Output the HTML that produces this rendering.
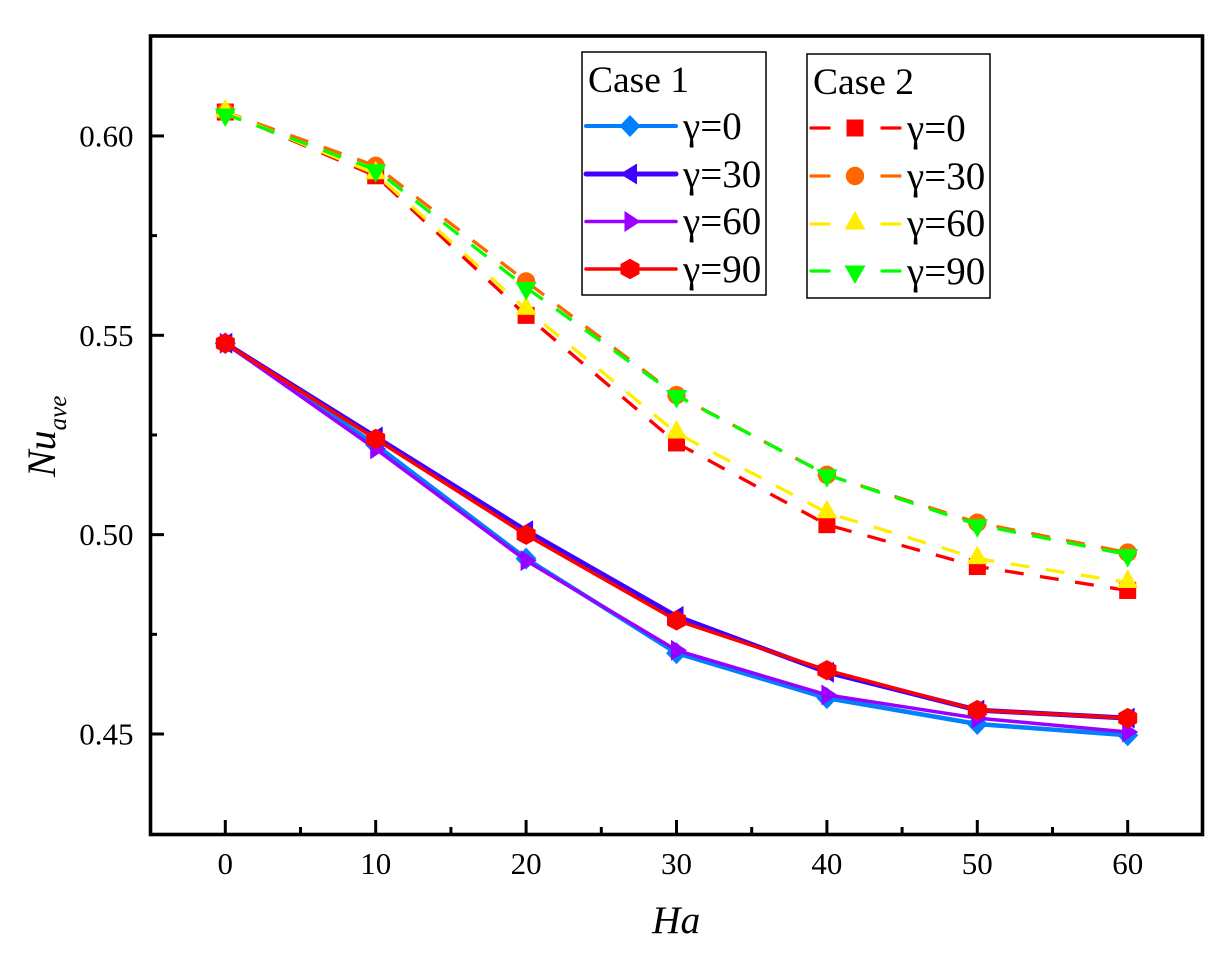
<!DOCTYPE html>
<html lang="en">
<head>
<meta charset="utf-8">
<title>Nu ave vs Ha</title>
<style>
html,body{margin:0;padding:0;background:#fff;}
svg{display:block;}
text{font-family:"Liberation Serif",serif;fill:#000;}
</style>
</head>
<body>
<svg id="chart" width="1230" height="953" viewBox="0 0 1230 953" xmlns="http://www.w3.org/2000/svg">
<rect x="0" y="0" width="1230" height="953" fill="#fff"/>
<g id="series-layer"></g>
<g id="axes-layer"></g>
<g id="legends"></g>
<text x="652" y="933" font-size="39.5" font-style="italic">Ha</text>
<text transform="translate(55,477) rotate(-90)" font-size="40" font-style="italic">Nu<tspan font-size="25" dy="11">ave</tspan></text>
</svg>
<script>
var categories = [0, 10, 20, 30, 40, 50, 60];
var xTicks = [0, 10, 20, 30, 40, 50, 60];
var xMinorTicks = [5, 15, 25, 35, 45, 55];
var yTicks = [0.45, 0.50, 0.55, 0.60];
var yTickLabels = ['0.45', '0.50', '0.55', '0.60'];
var yMinorTicks = [0.475, 0.525, 0.575];

var case1Gamma0 = [0.548, 0.5225, 0.494, 0.4703, 0.459, 0.4525, 0.4497];
var case1Gamma30 = [0.548, 0.5245, 0.501, 0.4795, 0.4655, 0.456, 0.454];
var case1Gamma60 = [0.548, 0.5215, 0.4935, 0.471, 0.4598, 0.454, 0.4505];
var case1Gamma90 = [0.548, 0.524, 0.5, 0.4785, 0.466, 0.456, 0.454];
var case2Gamma0 = [0.606, 0.59, 0.555, 0.523, 0.5025, 0.492, 0.486];
var case2Gamma30 = [0.606, 0.5925, 0.5635, 0.535, 0.515, 0.503, 0.4955];
var case2Gamma60 = [0.606, 0.5905, 0.5565, 0.5255, 0.5055, 0.494, 0.488];
var case2Gamma90 = [0.6055, 0.5915, 0.562, 0.5349, 0.515, 0.5025, 0.495];

var NS = 'http://www.w3.org/2000/svg';
function xScale(v) { return 225.3 + (v - 0) * 15.04; }
function yScale(v) { return 734 - (v - 0.45) * 3987; }

function make(tag, attrs, parent) {
  var el = document.createElementNS(NS, tag);
  for (var k in attrs) el.setAttribute(k, attrs[k]);
  parent.appendChild(el);
  return el;
}
function pointsOf(list) {
  return list.map(function (p) { return p[0].toFixed(1) + ',' + p[1].toFixed(1); }).join(' ');
}
function drawMarker(kind, cx, cy, color, parent) {
  var pts = null;
  if (kind === 'diamond') pts = [[cx, cy - 11], [cx + 10.5, cy], [cx, cy + 11], [cx - 10.5, cy]];
  if (kind === 'left') pts = [[cx - 10, cy], [cx + 7, cy - 10.5], [cx + 7, cy + 10.5]];
  if (kind === 'right') pts = [[cx + 10.5, cy], [cx - 5.5, cy - 10.5], [cx - 5.5, cy + 10.5]];
  if (kind === 'hexagon') pts = [[cx, cy - 10.2], [cx + 9.5, cy - 5], [cx + 9.5, cy + 5], [cx, cy + 10.2], [cx - 9.5, cy + 5], [cx - 9.5, cy - 5]];
  if (kind === 'up') pts = [[cx, cy - 13], [cx + 10.5, cy + 5.5], [cx - 10.5, cy + 5.5]];
  if (kind === 'down') pts = [[cx, cy + 13], [cx + 10.5, cy - 5.5], [cx - 10.5, cy - 5.5]];
  if (pts) return make('polygon', { points: pointsOf(pts), fill: color }, parent);
  if (kind === 'square') return make('rect', { x: cx - 8.5, y: cy - 8.5, width: 17, height: 17, fill: color }, parent);
  return make('circle', { cx: cx, cy: cy, r: 9.2, fill: color }, parent);
}

var seriesLayer = document.getElementById('series-layer');
var axesLayer = document.getElementById('axes-layer');
var legendsLayer = document.getElementById('legends');

function drawSeries(name, values, color, width, dash, marker) {
  var g = make('g', {}, seriesLayer);
  
  
  var attrs = {
    points: pointsOf(values.map(function (v, i) { return [xScale(categories[i]), yScale(v)]; })),
    fill: 'none', stroke: color, 'stroke-width': width, 'stroke-linejoin': 'round'
  };
  if (dash) {
    attrs['stroke-dasharray'] = dash;
    attrs['stroke-dashoffset'] = 2;
  }
  var line = make('polyline', attrs, g);
  
  
  values.forEach(function (v, i) {
    var m = drawMarker(marker, xScale(categories[i]), yScale(v), color, g);
    
    
  });
}

drawSeries('case1-gamma0', case1Gamma0, '#0080ff', 4.5, null, 'diamond');
drawSeries('case1-gamma30', case1Gamma30, '#4000ff', 5, null, 'left');
drawSeries('case1-gamma60', case1Gamma60, '#9900ff', 3.5, null, 'right');
drawSeries('case1-gamma90', case1Gamma90, '#ff0000', 3.5, null, 'hexagon');
drawSeries('case2-gamma0', case2Gamma0, '#ff0000', 3.3, '19 16.5', 'square');
drawSeries('case2-gamma30', case2Gamma30, '#ff6600', 3.3, '19 16.5', 'circle');
drawSeries('case2-gamma60', case2Gamma60, '#ffee00', 3.3, '19 16.5', 'up');
drawSeries('case2-gamma90', case2Gamma90, '#00ff00', 3.3, '19 16.5', 'down');

/* axes */
var frame = make('rect', { x: 150.5, y: 36, width: 1052, height: 798.5, fill: 'none', stroke: '#000', 'stroke-width': 3.6 }, axesLayer);



xTicks.forEach(function (t) {
  var x = xScale(t);
  var tick = make('line', { x1: x, x2: x, y1: 834, y2: 820, stroke: '#000', 'stroke-width': 3 }, axesLayer);
  
  
  var label = make('text', { x: x, y: 874, 'font-size': 31, 'text-anchor': 'middle' }, axesLayer);
  
  
  label.textContent = String(t);
});
xMinorTicks.forEach(function (t) {
  var x = xScale(t);
  var tick = make('line', { x1: x, x2: x, y1: 834, y2: 827, stroke: '#000', 'stroke-width': 3 }, axesLayer);
  
  
});
yTicks.forEach(function (t, i) {
  var y = yScale(t);
  var tick = make('line', { x1: 151, x2: 164, y1: y, y2: y, stroke: '#000', 'stroke-width': 3 }, axesLayer);
  
  
  var label = make('text', { x: 133.5, y: y + 10.5, 'font-size': 31, 'text-anchor': 'end' }, axesLayer);
  
  
  label.textContent = yTickLabels[i];
});
yMinorTicks.forEach(function (t) {
  var y = yScale(t);
  var tick = make('line', { x1: 151, x2: 157, y1: y, y2: y, stroke: '#000', 'stroke-width': 3 }, axesLayer);
  
  
});

/* legends */
function drawLegend(name, title, bx, by, bw, bh, titleX, titleY, entries) {
  var g = make('g', {}, legendsLayer);
  
  
  var box = make('rect', { x: bx, y: by, width: bw, height: bh, fill: '#fff', stroke: '#000', 'stroke-width': 1.5 }, g);
  
  
  var head = make('text', { x: titleX, y: titleY, 'font-size': 37.5 }, g);
  
  
  head.textContent = title;
  entries.forEach(function (e) {
    var entry = make('g', {}, g);
    
    
    e.segments.forEach(function (s) {
      make('line', { x1: s[0], x2: s[1], y1: e.y, y2: e.y, stroke: e.color, 'stroke-width': e.width, 'stroke-linecap': 'round' }, entry);
    });
    drawMarker(e.marker, e.mx, e.y, e.color, entry);
    var txt = make('text', { x: e.tx, y: e.ty, 'font-size': 39 }, entry);
    txt.textContent = e.label;
  });
}
var solid = [[586, 676]];
var dashed = [[811, 829], [882, 900]];
drawLegend('legend-case-1', 'Case 1', 582, 52, 184, 243, 588, 92, [
  { y: 126, ty: 139, tx: 683, mx: 630, color: '#0080ff', width: 4, marker: 'diamond', segments: solid, label: 'γ=0' },
  { y: 174, ty: 187, tx: 683, mx: 630, color: '#4000ff', width: 5, marker: 'left', segments: solid, label: 'γ=30' },
  { y: 221.5, ty: 234, tx: 683, mx: 630, color: '#9900ff', width: 3.5, marker: 'right', segments: solid, label: 'γ=60' },
  { y: 269, ty: 282, tx: 683, mx: 630, color: '#ff0000', width: 3.5, marker: 'hexagon', segments: solid, label: 'γ=90' }
]);
drawLegend('legend-case-2', 'Case 2', 807, 54, 183, 244, 813, 94, [
  { y: 128, ty: 141, tx: 907, mx: 855, color: '#ff0000', width: 3.3, marker: 'square', segments: dashed, label: 'γ=0' },
  { y: 176, ty: 189, tx: 907, mx: 855, color: '#ff6600', width: 3.3, marker: 'circle', segments: dashed, label: 'γ=30' },
  { y: 224, ty: 236, tx: 907, mx: 855, color: '#ffee00', width: 3.3, marker: 'up', segments: dashed, label: 'γ=60' },
  { y: 271, ty: 284, tx: 907, mx: 855, color: '#00ff00', width: 3.3, marker: 'down', segments: dashed, label: 'γ=90' }
]);
</script>
</body>
</html>
